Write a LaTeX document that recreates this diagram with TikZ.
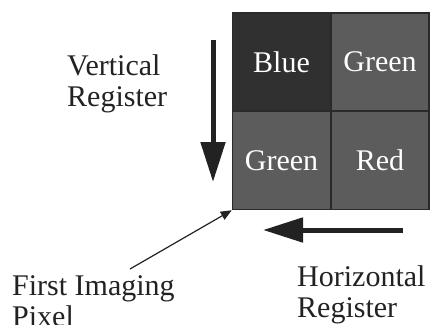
\documentclass[tikz,border=0pt]{standalone}
\usepackage{fontspec}
\setmainfont{Liberation Serif}
\usetikzlibrary{arrows.meta}
\definecolor{ink}{HTML}{222222}
\definecolor{cellline}{HTML}{2A2A2A}
\definecolor{darkcell}{HTML}{303030}
\definecolor{greycell}{HTML}{5C5C5C}
\begin{document}
\begin{tikzpicture}[x=1pt,y=-1pt,
  cell/.style={draw=cellline,line width=1.5pt,minimum width=98pt,minimum height=98pt,
    inner sep=0pt,text=white,font=\fontsize{30}{31}\selectfont},
  caption/.style={text=ink,font=\fontsize{30}{30.5}\selectfont,align=left,inner sep=0pt,anchor=base west},
  bigarrow/.style={draw=ink,line width=5pt,-{Triangle[length=40pt,width=24pt]}},
  pointer/.style={draw=ink,line width=1.2pt,-{Triangle[length=11pt,width=9pt]}}]
\useasboundingbox (0,0) rectangle (430,324);

% 2x2 colour filter pattern
\node[cell,fill=darkcell] (blue)   at (281.5,62)  {Blue};
\node[cell,fill=greycell] (green1) at (380,62)    {Green};
\node[cell,fill=greycell] (green2) at (281.5,160.5) {Green};
\node[cell,fill=greycell] (red)    at (380,160.5) {Red};

% shift directions
\coordinate (vtop) at (213,40);
\coordinate (vend) at (213,182);
\draw[bigarrow] (vtop) -- (vend);
\coordinate (hstart) at (403,230);
\coordinate (hend) at (263,230);
\draw[bigarrow] (hstart) -- (hend);

% labels (base anchor sits on the last line)
\node[caption] (vreg) at (67,106) {Vertical\\Register};
\node[caption] (hreg) at (297,317) {Horizontal\\Register};
\node[caption] (first) at (12,326) {First Imaging\\Pixel};
\coordinate (ptail) at (130,269);
\draw[pointer] (ptail) -- (green2.south west);
\end{tikzpicture}
\end{document}
